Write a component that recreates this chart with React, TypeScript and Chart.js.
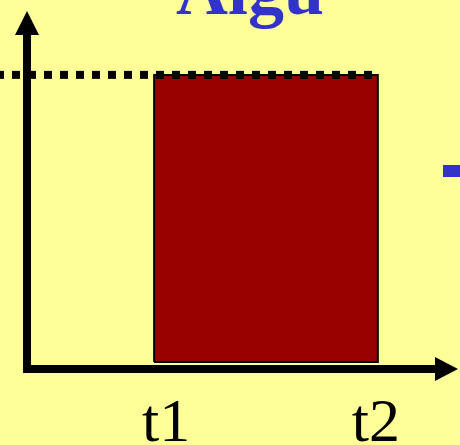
import React, { useEffect, useRef } from "react";
import { Chart, registerables } from "chart.js";

Chart.register(...registerables);

// Time interval of the pulse and its level
const t1 = 2.95;
const t2 = 8.14;
const level = 8.18;
const leftEdge = -0.72;

// Tick labels under the time axis
const tickValues = [t1, t2];
const tickLabels = ["t1", "t2"];
const tickNudge = [12, -2];

const titleText = "Algu";

const BG = "#FFFF99";
const PULSE = "#990000";
const BLUE = "#3333CC";

const decorPlugin = {
  id: "decor",
  beforeDraw(chart: any) {
    const { ctx, width, height } = chart;
    ctx.save();
    ctx.fillStyle = BG;
    ctx.fillRect(0, 0, width, height);
    ctx.fillStyle = BLUE;
    ctx.font = "bold 72px 'Liberation Serif', 'Times New Roman', serif";
    ctx.textAlign = "center";
    ctx.textBaseline = "alphabetic";
    ctx.fillText(titleText, 250, 14);
    ctx.fillRect(443, 165, 20, 12);
    ctx.restore();
  },
  afterDraw(chart: any) {
    const { ctx, chartArea } = chart;
    const xs = chart.scales.x;
    const ys = chart.scales.y;
    const ax = chartArea.left;
    const ay = ys.getPixelForValue(0) + 7;
    ctx.save();
    ctx.fillStyle = "#000";
    ctx.strokeStyle = "#000";
    ctx.lineWidth = 8;
    ctx.lineCap = "butt";
    // vertical axis
    ctx.beginPath();
    ctx.moveTo(ax, chartArea.top + 22);
    ctx.lineTo(ax, ay + 4);
    ctx.stroke();
    ctx.beginPath();
    ctx.moveTo(ax, chartArea.top);
    ctx.lineTo(ax - 12, chartArea.top + 24);
    ctx.lineTo(ax + 12, chartArea.top + 24);
    ctx.closePath();
    ctx.fill();
    // horizontal axis
    ctx.beginPath();
    ctx.moveTo(ax - 4, ay);
    ctx.lineTo(chartArea.right - 21, ay);
    ctx.stroke();
    ctx.beginPath();
    ctx.moveTo(chartArea.right, ay);
    ctx.lineTo(chartArea.right - 23, ay - 12);
    ctx.lineTo(chartArea.right - 23, ay + 12);
    ctx.closePath();
    ctx.fill();
    // tick labels
    ctx.font = "62px 'Liberation Serif', 'Times New Roman', serif";
    ctx.textAlign = "center";
    ctx.textBaseline = "alphabetic";
    tickValues.forEach((v, i) => {
      ctx.fillText(tickLabels[i], xs.getPixelForValue(v) + tickNudge[i], 441);
    });
    ctx.restore();
  },
};

export default function App() {
  const ref = useRef<HTMLCanvasElement | null>(null);

  useEffect(() => {
    document.body.style.margin = "0";
    document.body.style.background = BG;
    const canvas = ref.current;
    if (!canvas) return;
    const chart = new Chart(canvas, {
      type: "line",
      data: {
        datasets: [
          {
            label: "level",
            data: [
              { x: leftEdge, y: level },
              { x: t2, y: level },
            ],
            borderColor: "#000",
            borderWidth: 8,
            borderDash: [8, 8],
            pointRadius: 0,
            fill: false,
            clip: false,
            order: 1,
          },
          {
            label: "pulse outline",
            data: [
              { x: t1, y: 0 },
              { x: t1, y: level },
              { x: t2, y: level },
              { x: t2, y: 0 },
              { x: t1, y: 0 },
            ],
            borderColor: "#000",
            borderWidth: 2,
            fill: false,
            pointRadius: 0,
            tension: 0,
            clip: false,
            order: 2,
          },
          {
            label: "pulse",
            data: [
              { x: t1, y: 0 },
              { x: t1, y: level },
              { x: t2, y: level },
              { x: t2, y: 0 },
            ],
            borderWidth: 0,
            borderColor: "rgba(0,0,0,0)",
            backgroundColor: PULSE,
            fill: "origin",
            pointRadius: 0,
            tension: 0,
            clip: false,
            order: 3,
          },
        ],
      },
      options: {
        animation: false,
        responsive: false,
        events: [],
        layout: { padding: { left: 27, right: 2, top: 11, bottom: 83 } },
        plugins: {
          legend: { display: false },
          tooltip: { enabled: false },
          title: { display: false },
        },
        scales: {
          x: { type: "linear", min: 0, max: 10, display: false },
          y: { type: "linear", min: 0, max: 10, display: false },
        },
      },
      plugins: [decorPlugin],
    });
    return () => chart.destroy();
  }, []);

  return (
    <div style={{ width: 460, height: 445 }}>
      <canvas ref={ref} width={460} height={445} />
    </div>
  );
}
